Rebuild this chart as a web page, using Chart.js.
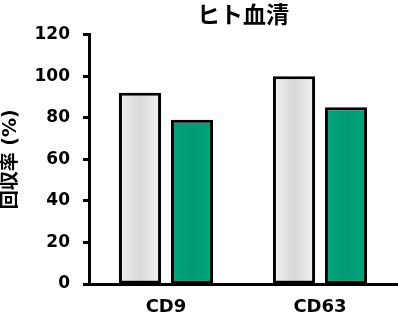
<!DOCTYPE html>
<html>
<head>
<meta charset="utf-8">
<script src="https://cdn.jsdelivr.net/npm/chart.js@4"></script>
<style>
  html, body { margin: 0; padding: 0; background: #fff; }
  #wrap { width: 398px; height: 318px; }
</style>
</head>
<body>
<div id="wrap"><canvas id="myChart" width="398" height="318"></canvas></div>
<script>
// données
const categories = ['CD9', 'CD63'];
const greyValues = [92, 100];
const greenValues = [79, 85];
const yTicks = [0, 20, 40, 60, 80, 100, 120];

// DejaVu est plus large, plus proche du texte étiré de l'original
const police = "'DejaVu Sans', 'Noto Sans CJK JP', sans-serif";
const policeJp = "'Noto Sans CJK JP', 'DejaVu Sans', sans-serif";
const noir = '#000';

// dégradé horizontal sur chaque barre (bords clairs, centre plus foncé)
const degrades = [
    ['#f2f2f2', '#d8d8d8', '#f2f2f2'],
    ['#00a77e', '#009a74', '#00a77e']
];

const pluginDegrade = {
    id: 'degrade',
    beforeDatasetDraw(chart, args) {
        const ctx = chart.ctx;
        const couleurs = degrades[args.index];
        args.meta.data.forEach(function (bar) {
            const x0 = bar.x - bar.width / 2;
            const x1 = bar.x + bar.width / 2;
            const g = ctx.createLinearGradient(x0, 0, x1, 0);
            g.addColorStop(0, couleurs[0]);
            g.addColorStop(0.5, couleurs[1]);
            g.addColorStop(1, couleurs[2]);
            bar.options = Object.assign({}, bar.options, { backgroundColor: g });
        });
    }
};

const data = {
    labels: categories,
    datasets: [{
        label: 'series 1',
        data: greyValues,
        backgroundColor: '#e0e0e0',
        borderColor: noir,
        borderWidth: 3,
        borderSkipped: false,
        categoryPercentage: 0.675,
        barPercentage: 0.81
    }, {
        label: 'series 2',
        data: greenValues,
        backgroundColor: '#00a077',
        borderColor: noir,
        borderWidth: 3,
        borderSkipped: false,
        categoryPercentage: 0.675,
        barPercentage: 0.81
    }]
};

const options = {
    responsive: false,
    animation: false,
    layout: { padding: { top: 0, right: 1, left: 0, bottom: 0 } },
    plugins: {
        legend: { display: false },
        tooltip: { enabled: false },
        title: {
            display: true,
            text: 'ヒト血清',
            fullSize: false,
            color: noir,
            font: { family: policeJp, size: 23, weight: 'bold' },
            padding: { top: 0, bottom: 7 }
        }
    },
    scales: {
        y: {
            min: 0,
            max: 120,
            afterBuildTicks: function (axis) {
                axis.ticks = yTicks.map(function (v) { return { value: v }; });
            },
            afterFit: function (axis) {
                axis.width = 89;
            },
            grid: {
                drawOnChartArea: false,
                drawTicks: true,
                tickLength: 6,
                tickWidth: 3,
                tickColor: noir
            },
            border: { display: true, color: noir, width: 3 },
            ticks: {
                color: noir,
                padding: 13,
                font: { family: police, size: 17, weight: 'bold' }
            },
            title: {
                display: true,
                text: '回収率 (%)',
                color: noir,
                font: { family: police, size: 19, weight: 'bold' },
                padding: { top: 0, bottom: 0 }
            }
        },
        x: {
            afterFit: function (axis) {
                axis.height = 34;
            },
            grid: {
                drawOnChartArea: false,
                drawTicks: false
            },
            border: { display: true, color: noir, width: 3 },
            ticks: {
                color: noir,
                padding: 13,
                font: { family: police, size: 18, weight: 'bold' }
            }
        }
    }
};

const ctx = document.getElementById('myChart').getContext('2d');
const myChart = new Chart(ctx, {
    type: 'bar',
    data: data,
    options: options,
    plugins: [pluginDegrade]
});
</script>
</body>
</html>
